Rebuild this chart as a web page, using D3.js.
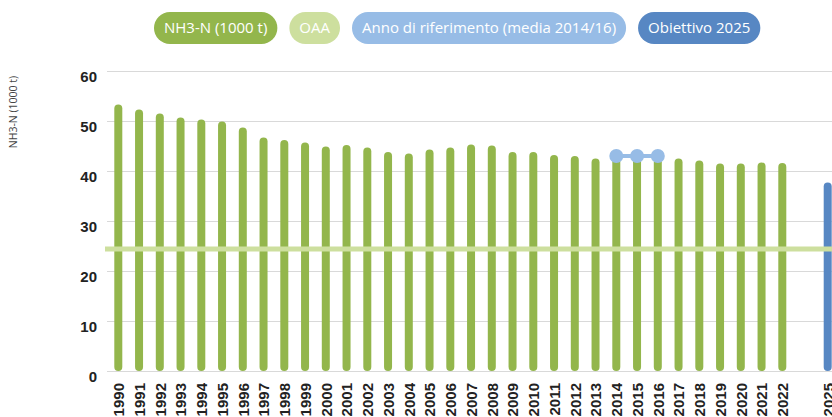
<!DOCTYPE html>
<html>
<head>
<meta charset="utf-8">
<script src="https://cdn.jsdelivr.net/npm/d3@7"></script>
<style>
  html, body { margin: 0; padding: 0; background: #fff; }
  svg { display: block; font-family: "Open Sans", "DejaVu Sans", sans-serif; }
</style>
</head>
<body>
<svg id="chart" width="832" height="417"></svg>
<script>
// Annual ammonia emissions (NH3-N, thousand tonnes)
const years = ["1990","1991","1992","1993","1994","1995","1996","1997","1998","1999",
               "2000","2001","2002","2003","2004","2005","2006","2007","2008","2009",
               "2010","2011","2012","2013","2014","2015","2016","2017","2018","2019",
               "2020","2021","2022"];
const emissions = [53.3, 52.3, 51.5, 50.7, 50.3, 49.9, 48.7, 46.7, 46.2, 45.7,
                   44.9, 45.2, 44.7, 43.8, 43.5, 44.3, 44.7, 45.3, 45.1, 43.8,
                   43.8, 43.2, 43.0, 42.5, 43.0, 42.6, 42.5, 42.5, 42.1, 41.5,
                   41.5, 41.7, 41.6];
const targetYear = "2025";
const targetValue = 37.7;
const oaaValue = 24.4;
const referenceYears = ["2014", "2015", "2016"];
const referenceValue = 43.0;
const yTicks = [0, 10, 20, 30, 40, 50, 60];
const legendLabels = ["NH3-N (1000 t)", "OAA", "Anno di riferimento (media 2014/16)", "Obiettivo 2025"];
const yTitle = "NH3-N (1000 t)";

const colors = {
  bar: "#93b64c",
  oaa: "#cddf9e",
  reference: "#97bce6",
  target: "#5787c3",
  grid: "#d9d9d9",
  text: "#222"
};
const legendColors = [colors.bar, colors.oaa, colors.reference, colors.target];

const W = 832, H = 417;
const svg = d3.select("#chart");

const plotLeft = 107, plotRight = W;
const y = d3.scaleLinear().domain([0, 60]).range([371, 71]);
// Years along the axis, with a compressed gap before the target year
const x = d3.scaleLinear()
  .domain([1990, 2022, 2025])
  .range([118.3, 782.3, 827.7]);
const xv = d => x(+d);

// Y axis with gridlines
const yAxis = svg.append("g")
  .attr("transform", `translate(${plotLeft},0)`)
  .call(d3.axisLeft(y).tickValues(yTicks).tickSize(-(plotRight - plotLeft)).tickPadding(10).tickFormat(d3.format("d")));
yAxis.select(".domain").remove();
yAxis.selectAll(".tick line").attr("stroke", colors.grid).attr("stroke-width", 1.2);
yAxis.selectAll(".tick text")
  .attr("fill", colors.text)
  .style("font-size", "15px")
  .style("font-weight", "700")
  .attr("dy", "0.68em");

// Y axis title
svg.append("text")
  .attr("transform", `translate(17,112) rotate(-90)`)
  .attr("text-anchor", "middle")
  .attr("fill", "#444")
  .style("font-size", "10.5px")
  .text(yTitle);

// X axis year labels (rotated)
const xLabels = years.concat([targetYear]);
const xAxis = svg.append("g")
  .attr("transform", `translate(0,${y(0)})`)
  .call(d3.axisBottom(x).tickValues(xLabels.map(Number)).tickSize(0).tickFormat(d3.format("d")));
xAxis.select(".domain").remove();
xAxis.selectAll(".tick text")
  .attr("fill", colors.text)
  .style("font-size", "15px")
  .style("font-weight", "700")
  .attr("text-anchor", "end")
  .attr("transform", "rotate(-90)")
  .attr("x", -12)
  .attr("y", 0)
  .attr("dy", "0.36em");

// Emission bars with rounded ends
const barW = 8;
svg.append("g").selectAll("rect")
  .data(years.map((yr, i) => ({ yr, v: emissions[i] })))
  .join("rect")
  .attr("x", d => xv(d.yr) - barW / 2)
  .attr("y", d => y(d.v))
  .attr("width", barW)
  .attr("height", d => y(0) - y(d.v))
  .attr("rx", barW / 2)
  .attr("fill", colors.bar);

// Target bar
svg.append("rect")
  .attr("x", xv(targetYear) - barW / 2)
  .attr("y", y(targetValue))
  .attr("width", barW)
  .attr("height", y(0) - y(targetValue))
  .attr("rx", barW / 2)
  .attr("fill", colors.target);

// OAA line
svg.append("line")
  .attr("x1", 105).attr("x2", W)
  .attr("y1", y(oaaValue)).attr("y2", y(oaaValue))
  .attr("stroke", colors.oaa)
  .attr("stroke-width", 5);

// Reference period (average 2014/16)
svg.append("line")
  .attr("x1", xv(referenceYears[0])).attr("x2", xv(referenceYears[referenceYears.length - 1]))
  .attr("y1", y(referenceValue)).attr("y2", y(referenceValue))
  .attr("stroke", colors.reference)
  .attr("stroke-width", 4);
svg.append("g").selectAll("circle")
  .data(referenceYears)
  .join("circle")
  .attr("cx", d => xv(d))
  .attr("cy", y(referenceValue))
  .attr("r", 7)
  .attr("fill", colors.reference);

// Legend pills
const legend = svg.append("g");
let lx = 154;
const pillH = 32, pillY = 12, padX = 10, gap = 12;
legendLabels.forEach((label, i) => {
  const g = legend.append("g");
  const rect = g.append("rect")
    .attr("y", pillY)
    .attr("height", pillH)
    .attr("rx", pillH / 2)
    .attr("fill", legendColors[i]);
  const t = g.append("text")
    .attr("y", pillY + pillH / 2)
    .attr("dy", "0.35em")
    .attr("fill", "#fff")
    .style("font-size", "15px")
    .text(label);
  const tw = t.node().getComputedTextLength();
  rect.attr("x", lx).attr("width", tw + 2 * padX);
  t.attr("x", lx + padX);
  lx += tw + 2 * padX + gap;
});
</script>
</body>
</html>
